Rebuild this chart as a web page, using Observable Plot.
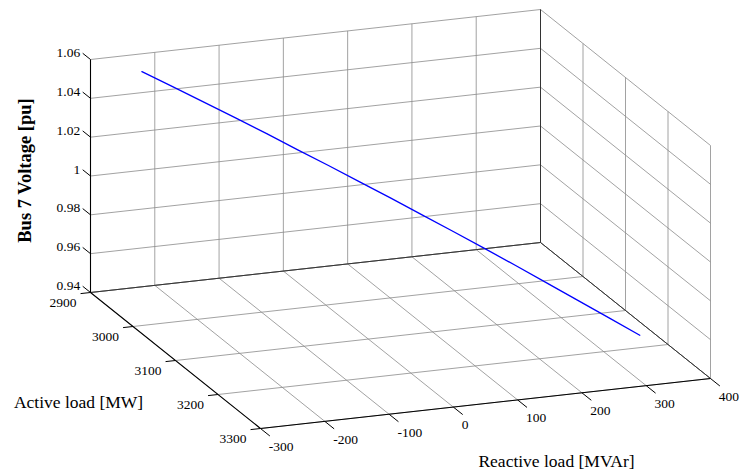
<!DOCTYPE html>
<html>
<head>
<meta charset="utf-8">
<script src="https://cdn.jsdelivr.net/npm/d3@7"></script>
<script src="https://cdn.jsdelivr.net/npm/@observablehq/plot@0.6"></script>
<style>
  html, body { margin: 0; padding: 0; background: #ffffff; }
  #chart { width: 743px; height: 476px; }
</style>
</head>
<body>
<div id="chart"></div>
<script>
// ---- data ----
const reactiveTicks = [-300, -200, -100, 0, 100, 200, 300, 400];
const reactiveTickLabels = ["-300", "-200", "-100", "0", "100", "200", "300", "400"];
const activeTicks = [2900, 3000, 3100, 3200, 3300];
const activeTickLabels = ["2900", "3000", "3100", "3200", "3300"];
const voltageTicks = [0.94, 0.96, 0.98, 1.00, 1.02, 1.04, 1.06];
const voltageTickLabels = ["0.94", "0.96", "0.98", "1", "1.02", "1.04", "1.06"];

const activeLoad = [2900, 2925, 2950, 2975, 3000, 3025, 3050, 3075, 3100, 3125, 3150, 3175, 3200, 3225, 3250, 3275, 3300];
const reactiveLoad = [-220, -188, -156, -124, -92, -61, -29, 3, 35, 67, 99, 131, 163, 194, 226, 258, 290];
const busVoltage = [1.0508, 1.0462, 1.0414, 1.0366, 1.0317, 1.0267, 1.0217, 1.0165, 1.0113, 1.0059, 1.0005, 0.9950, 0.9894, 0.9838, 0.9780, 0.9722, 0.9663];

const xLabel = "Reactive load [MVAr]";
const yLabel = "Active load [MW]";
const zLabel = "Bus 7 Voltage [pu]";

// ---- 3D view (orthographic, MATLAB-like) ----
const qDom = [-300, 400], pDom = [2900, 3300], vDom = [0.94, 1.06];
const O = [90, 292], EX = [450, -50], EY = [170, 136], EZ = [0, -233];
function proj(q, p, v) {
  const a = (q - qDom[0]) / (qDom[1] - qDom[0]);
  const b = (p - pDom[0]) / (pDom[1] - pDom[0]);
  const c = (v - vDom[0]) / (vDom[1] - vDom[0]);
  return [O[0] + a * EX[0] + b * EY[0] + c * EZ[0], O[1] + a * EX[1] + b * EY[1] + c * EZ[1]];
}
function seg(a, b) { return {a: proj(...a), b: proj(...b)}; }

const [q0, q1] = qDom, [p0, p1] = pDom, [v0, v1] = vDom;

// grid segments
const grid = [];
reactiveTicks.forEach(q => { grid.push(seg([q, p0, v0], [q, p0, v1])); grid.push(seg([q, p0, v0], [q, p1, v0])); });
voltageTicks.forEach(v => { grid.push(seg([q0, p0, v], [q1, p0, v])); grid.push(seg([q1, p0, v], [q1, p1, v])); });
activeTicks.forEach(p => { grid.push(seg([q0, p, v0], [q1, p, v0])); grid.push(seg([q1, p, v0], [q1, p, v1])); });

// dark axis / box edges
const axesLines = [
  seg([q0, p0, v0], [q0, p0, v1]),
  seg([q0, p0, v0], [q0, p1, v0]),
  seg([q0, p1, v0], [q1, p1, v0])
];
const boxEdges = [
  seg([q0, p0, v0], [q1, p0, v0]),
  seg([q1, p0, v0], [q1, p1, v0]),
  seg([q1, p0, v0], [q1, p0, v1])
];

function unit(v) { const l = Math.hypot(v[0], v[1]); return [v[0] / l, v[1] / l]; }
const uX = unit(EX), uY = unit(EY);

// ticks
const zTicks = voltageTicks.map((v, i) => { const s = proj(q0, p0, v); return {s, e: [s[0] - 10 * uY[0], s[1] - 10 * uY[1]], label: voltageTickLabels[i]}; });
const yTicks = activeTicks.map((p, i) => { const s = proj(q0, p, v0); return {s, e: [s[0] - 10 * uX[0], s[1] - 10 * uX[1]], label: activeTickLabels[i]}; });
const xTicks = reactiveTicks.map((q, i) => { const s = proj(q, p1, v0); return {s, e: [s[0] + 12 * uY[0], s[1] + 12 * uY[1]], label: reactiveTickLabels[i]}; });
const allTicks = [...zTicks, ...yTicks, ...xTicks];

const curve = activeLoad.map((p, i) => { const pt = proj(reactiveLoad[i], p, busVoltage[i]); return {px: pt[0], py: pt[1]}; });

const font = "'Liberation Serif', 'Times New Roman', serif";

const chart = Plot.plot({
  width: 743,
  height: 476,
  margin: 0,
  x: {domain: [0, 743], range: [0, 743], axis: null},
  y: {domain: [0, 476], range: [0, 476], axis: null},
  style: {background: "#ffffff", fontFamily: font},
  marks: [
    Plot.link(grid, {x1: d => d.a[0], y1: d => d.a[1], x2: d => d.b[0], y2: d => d.b[1], stroke: "#8a8a8a", strokeWidth: 0.8}),
    Plot.link(boxEdges, {x1: d => d.a[0], y1: d => d.a[1], x2: d => d.b[0], y2: d => d.b[1], stroke: "#333333", strokeWidth: 1}),
    Plot.link(axesLines, {x1: d => d.a[0], y1: d => d.a[1], x2: d => d.b[0], y2: d => d.b[1], stroke: "#000000", strokeWidth: 1.1}),
    Plot.link(allTicks, {x1: d => d.s[0], y1: d => d.s[1], x2: d => d.e[0], y2: d => d.e[1], stroke: "#000000", strokeWidth: 1}),
    Plot.line(curve, {x: "px", y: "py", stroke: "#0000ff", strokeWidth: 1.3}),
    Plot.text(zTicks, {x: d => d.e[0] - 2.5, y: d => d.e[1] - 0.5, text: "label", textAnchor: "end", fontSize: 13.5, fill: "#000"}),
    Plot.text(yTicks, {x: d => d.e[0] - 4, y: d => d.e[1] + 9, text: "label", textAnchor: "end", fontSize: 13.5, fill: "#000"}),
    Plot.text(xTicks, {x: d => d.e[0] - 1, y: d => d.e[1] + 10.5, text: "label", textAnchor: "start", fontSize: 13.5, fill: "#000"}),
    Plot.text([zLabel], {x: () => 25, y: () => 170, text: d => d, rotate: -90, fontSize: 18.5, fontWeight: "bold", fill: "#000"}),
    Plot.text([yLabel], {x: () => 78, y: () => 402, text: d => d, fontSize: 17.5, fill: "#000"}),
    Plot.text([xLabel], {x: () => 556, y: () => 461, text: d => d, fontSize: 17.5, fill: "#000"})
  ]
});
document.getElementById("chart").appendChild(chart);
</script>
</body>
</html>
